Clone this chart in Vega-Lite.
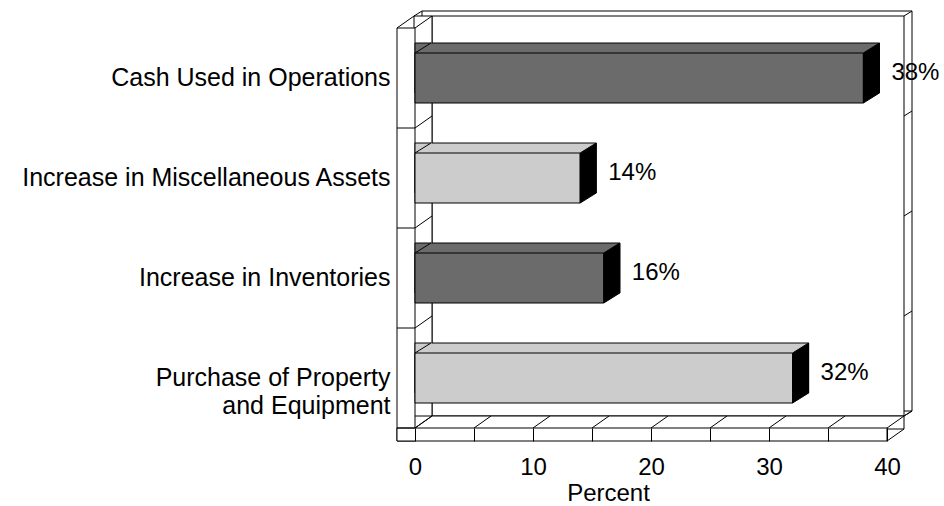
{
  "$schema": "https://vega.github.io/schema/vega-lite/v6.json",
  "width": 472,
  "height": 400,
  "autosize": {"type": "none"},
  "padding": {"left": 415, "top": 28, "right": 57, "bottom": 78},
  "background": "white",
  "config": {"view": {"stroke": null}, "font": "Liberation Sans"},
  "datasets": {
    "bars": [
      {"category": "Cash Used in Operations", "value": 38, "label": "38%"},
      {"category": "Increase in Miscellaneous Assets", "value": 14, "label": "14%"},
      {"category": "Increase in Inventories", "value": 16, "label": "16%"},
      {"category": "Purchase of Property and Equipment", "value": 32, "label": "32%"}
    ],
    "floor": [{"t": 0}, {"t": 5}, {"t": 10}, {"t": 15}, {"t": 20}, {"t": 25}, {"t": 30}, {"t": 35}, {"t": 40}],
    "one": [{}]
  },
  "resolve": {"scale": {"y": "independent"}, "axis": {"y": "independent"}},
  "layer": [
    {
      "data": {"name": "one"},
      "layer": [
        {"mark": {"type": "rect", "fill": "white", "stroke": "black", "strokeWidth": 1, "xOffset": 7, "x2Offset": 25, "yOffset": -17, "y2Offset": -17},
         "encoding": {"x": {"datum": 0, "type": "quantitative", "scale": {"domain": [0, 40], "nice": false}}, "x2": {"datum": 40}, "y": {"datum": 0, "type": "quantitative", "scale": {"domain": [0, 1], "nice": false}, "axis": null}, "y2": {"datum": 1}}},
        {"mark": {"type": "rect", "fill": "white", "stroke": "black", "strokeWidth": 1, "xOffset": 17, "x2Offset": 17, "yOffset": -12, "y2Offset": -12},
         "encoding": {"x": {"datum": 0, "type": "quantitative"}, "x2": {"datum": 40}, "y": {"datum": 0, "type": "quantitative", "axis": null}, "y2": {"datum": 1}}},
        {"mark": {"type": "rect", "fill": "white", "stroke": "black", "strokeWidth": 1, "xOffset": -1, "x2Offset": 17, "yOffset": 1, "y2Offset": -12},
         "encoding": {"x": {"datum": 0, "type": "quantitative"}, "x2": {"datum": 0}, "y": {"datum": 0, "type": "quantitative", "axis": null}, "y2": {"datum": 1}}},
        {"mark": {"type": "rect", "fill": "white", "stroke": "black", "strokeWidth": 1, "xOffset": -1, "x2Offset": 17, "yOffset": -12, "y2Offset": 1},
         "encoding": {"x": {"datum": 0, "type": "quantitative"}, "x2": {"datum": 40}, "y": {"datum": 0, "type": "quantitative", "axis": null}, "y2": {"datum": 0}}},
        {"mark": {"type": "rect", "fill": "white", "stroke": "black", "strokeWidth": 1, "xOffset": -18, "x2Offset": 0, "yOffset": 13, "y2Offset": 0},
         "encoding": {"x": {"datum": 0, "type": "quantitative"}, "x2": {"datum": 0}, "y": {"datum": 0, "type": "quantitative", "axis": null}, "y2": {"datum": 1}}},
        {"mark": {"type": "rect", "fill": "white", "stroke": "black", "strokeWidth": 1, "xOffset": -18, "x2Offset": 0, "yOffset": 0, "y2Offset": 13},
         "encoding": {"x": {"datum": 0, "type": "quantitative"}, "x2": {"datum": 40}, "y": {"datum": 0, "type": "quantitative", "axis": null}, "y2": {"datum": 0}}},
        {"mark": {"type": "rule", "color": "black", "strokeWidth": 1, "xOffset": -18, "x2Offset": -1, "yOffset": 0, "y2Offset": -12},
         "encoding": {"x": {"datum": 0, "type": "quantitative"}, "x2": {"datum": 0}, "y": {"datum": 1, "type": "quantitative", "axis": null}, "y2": {"datum": 1}}},
        {"mark": {"type": "rule", "color": "black", "strokeWidth": 1, "xOffset": 0, "x2Offset": 17, "yOffset": 0, "y2Offset": -12},
         "encoding": {"x": {"datum": 0, "type": "quantitative"}, "x2": {"datum": 0}, "y": {"datum": 1, "type": "quantitative", "axis": null}, "y2": {"datum": 1}}},
        {"mark": {"type": "rule", "color": "black", "strokeWidth": 1, "xOffset": 0, "x2Offset": 17, "yOffset": 13, "y2Offset": 1},
         "encoding": {"x": {"datum": 40, "type": "quantitative"}, "x2": {"datum": 40}, "y": {"datum": 0, "type": "quantitative", "axis": null}, "y2": {"datum": 0}}},
        {"mark": {"type": "rule", "color": "black", "strokeWidth": 1, "xOffset": 17, "x2Offset": 25, "yOffset": -12, "y2Offset": -17},
         "encoding": {"x": {"datum": 40, "type": "quantitative"}, "x2": {"datum": 40}, "y": {"datum": 1, "type": "quantitative", "axis": null}, "y2": {"datum": 1}}},
        {"mark": {"type": "rule", "color": "black", "strokeWidth": 1, "xOffset": -1, "x2Offset": 7, "yOffset": -12, "y2Offset": -17},
         "encoding": {"x": {"datum": 0, "type": "quantitative"}, "x2": {"datum": 0}, "y": {"datum": 1, "type": "quantitative", "axis": null}, "y2": {"datum": 1}}},
        {"mark": {"type": "rule", "color": "black", "strokeWidth": 1, "xOffset": 17, "x2Offset": 25, "yOffset": -12, "y2Offset": -17},
         "encoding": {"x": {"datum": 40, "type": "quantitative"}, "x2": {"datum": 40}, "y": {"datum": 0, "type": "quantitative", "axis": null}, "y2": {"datum": 0}}},
        {"data": {"name": "floor"},
         "mark": {"type": "rule", "color": "black", "strokeWidth": 1, "xOffset": 0, "x2Offset": 17, "yOffset": 0, "y2Offset": -12},
         "encoding": {"x": {"field": "t", "type": "quantitative"}, "x2": {"field": "t"}, "y": {"datum": 0, "type": "quantitative", "axis": null}, "y2": {"datum": 0}}}
      ]
    },
    {
      "data": {"name": "bars"},
      "encoding": {
        "y": {
          "field": "category", "type": "nominal", "sort": null,
          "scale": {"type": "band", "paddingInner": 0.5, "paddingOuter": 0.25},
          "axis": {
            "title": null, "domain": false, "ticks": false, "grid": false,
            "labelPadding": 25, "labelFontSize": 25, "labelFont": "Liberation Sans", "labelColor": "black",
            "labelLimit": 600, "labelLineHeight": 28,
            "labelExpr": "datum.value === 'Purchase of Property and Equipment' ? ['Purchase of Property', 'and Equipment'] : datum.label"
          }
        },
        "color": {
          "field": "category", "type": "nominal",
          "scale": {
            "domain": ["Cash Used in Operations", "Increase in Miscellaneous Assets", "Increase in Inventories", "Purchase of Property and Equipment"],
            "range": ["#6b6b6b", "#cccccc", "#6b6b6b", "#cccccc"]
          },
          "legend": null
        }
      },
      "layer": [
        {"mark": {"type": "bar", "stroke": "black", "strokeWidth": 1, "xOffset": 16, "x2Offset": 16, "yOffset": -10, "y2Offset": -10},
         "encoding": {"x": {"field": "value", "type": "quantitative", "stack": null,
           "scale": {"domain": [0, 40], "nice": false},
           "axis": {
             "title": "Percent", "orient": "bottom", "values": [0, 5, 10, 15, 20, 25, 30, 35, 40],
             "labelExpr": "datum.value % 10 === 0 ? datum.label : ''",
             "domain": false, "grid": false, "ticks": true, "tickSize": 13, "tickColor": "black", "tickWidth": 1,
             "labelFontSize": 24, "labelFont": "Liberation Sans", "labelColor": "black", "labelPadding": 14,
             "labelFlush": false, "labelOverlap": false,
             "titleFontSize": 24, "titleFont": "Liberation Sans", "titleFontWeight": "normal", "titleColor": "black",
             "titleX": 193, "titleY": 72, "titleBaseline": "alphabetic", "titleAlign": "center",
             "zindex": 1
           }}}},
        {"mark": {"type": "point", "shape": "M0,-25L16,-35L16.6,-34.4L16.6,-24L0,-24Z", "filled": true, "size": 4, "opacity": 1, "strokeWidth": 0},
         "encoding": {"x": {"datum": 0, "type": "quantitative"}}},
        {"mark": {"type": "point", "shape": "M0,-25L16,-35", "filled": false, "size": 4, "opacity": 1, "strokeWidth": 1},
         "encoding": {"x": {"datum": 0, "type": "quantitative"}, "color": {"value": "black"}}},
        {"mark": {"type": "bar", "stroke": "black", "strokeWidth": 1},
         "encoding": {"x": {"field": "value", "type": "quantitative", "stack": null}}},
        {"mark": {"type": "point", "shape": "M0,-25L16,-35L16,15L0,25Z", "filled": true, "size": 4, "opacity": 1, "stroke": "black", "strokeWidth": 1},
         "encoding": {"x": {"field": "value", "type": "quantitative"}, "color": {"value": "black"}}},
        {"mark": {"type": "point", "shape": "M-18,50L0,50L17,38", "filled": false, "size": 4, "opacity": 1, "strokeWidth": 1},
         "encoding": {"x": {"datum": 0, "type": "quantitative"}, "color": {"value": "black"}}},
        {"mark": {"type": "point", "shape": "M17,38L25,33", "filled": false, "size": 4, "opacity": 1, "strokeWidth": 1},
         "encoding": {"x": {"datum": 40, "type": "quantitative"}, "color": {"value": "black"}}},
        {"mark": {"type": "text", "align": "left", "baseline": "middle", "dx": 28, "dy": -5, "fontSize": 24, "font": "Liberation Sans"},
         "encoding": {"x": {"field": "value", "type": "quantitative"}, "text": {"field": "label"}, "color": {"value": "black"}}}
      ]
    }
  ]
}
